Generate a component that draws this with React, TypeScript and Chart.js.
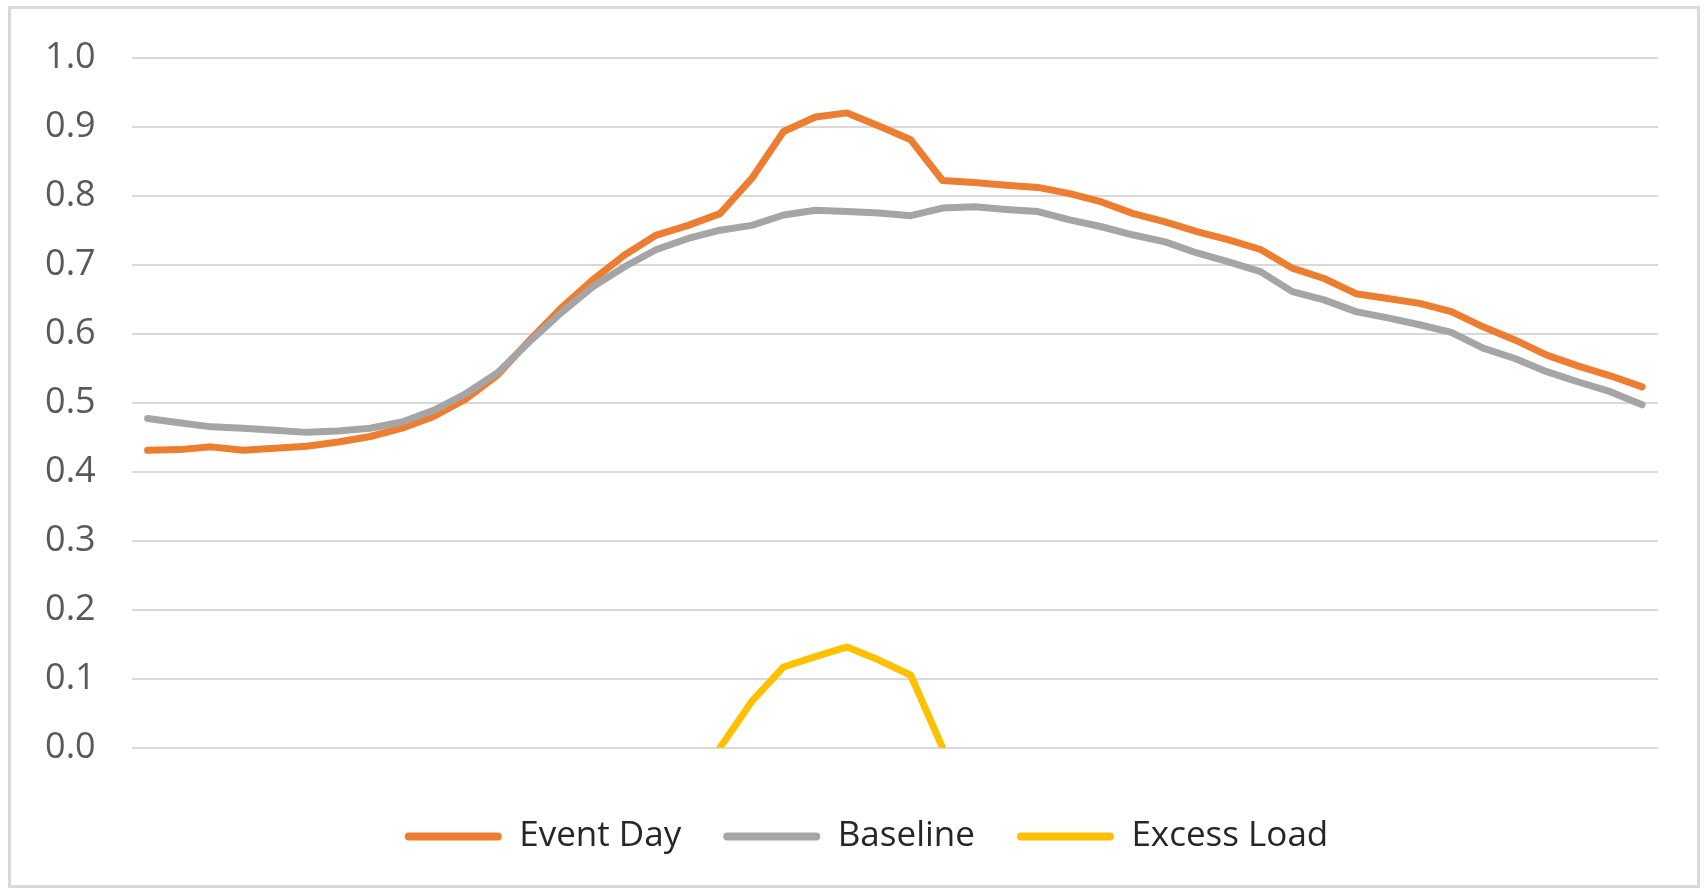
import React, { useEffect, useRef } from 'react';
import { Chart, registerables } from 'chart.js';

Chart.register(...registerables);

const timeLabels = [
  '0:30', '1:00', '1:30', '2:00', '2:30', '3:00', '3:30', '4:00', '4:30', '5:00', '5:30', '6:00',
  '6:30', '7:00', '7:30', '8:00', '8:30', '9:00', '9:30', '10:00', '10:30', '11:00', '11:30', '12:00',
  '12:30', '13:00', '13:30', '14:00', '14:30', '15:00', '15:30', '16:00', '16:30', '17:00', '17:30', '18:00',
  '18:30', '19:00', '19:30', '20:00', '20:30', '21:00', '21:30', '22:00', '22:30', '23:00', '23:30', '24:00',
];

const eventDay = [
  0.431, 0.432, 0.436, 0.431, 0.434, 0.437, 0.443, 0.451, 0.463, 0.48,
  0.505, 0.54, 0.59, 0.637, 0.678, 0.714, 0.743, 0.757, 0.774, 0.825,
  0.893, 0.914, 0.92, 0.901, 0.881, 0.822, 0.819, 0.815, 0.812, 0.803,
  0.791, 0.774, 0.762, 0.748, 0.736, 0.722, 0.695, 0.68, 0.658, 0.651,
  0.644, 0.632, 0.61, 0.591, 0.569, 0.553, 0.539, 0.523,
];

const baseline = [
  0.477, 0.471, 0.465, 0.463, 0.46, 0.457, 0.459, 0.463, 0.472, 0.489,
  0.513, 0.543, 0.588, 0.63, 0.668, 0.697, 0.722, 0.738, 0.75, 0.757,
  0.772, 0.779, 0.777, 0.775, 0.771, 0.782, 0.784, 0.78, 0.777, 0.765,
  0.755, 0.743, 0.733, 0.717, 0.704, 0.69, 0.661, 0.649, 0.632, 0.623,
  0.613, 0.602, 0.579, 0.564, 0.545, 0.53, 0.516, 0.497,
];

const excessLoad = [
  null, null, null, null, null, null, null, null, null, null,
  null, null, null, null, null, null, null, null, 0, 0.067,
  0.117, 0.132, 0.146, 0.127, 0.105, 0, null, null, null, null,
  null, null, null, null, null, null, null, null, null, null,
  null, null, null, null, null, null, null, null,
];

const yTickValues = [0, 0.1, 0.2, 0.3, 0.4, 0.5, 0.6, 0.7, 0.8, 0.9, 1.0];

const seriesNames = ['Event Day', 'Baseline', 'Excess Load'];
const seriesColors = ['#ED7D31', '#A5A5A5', '#FFC000'];

const legendShift = {
  id: 'legendShift',
  afterLayout(chart: any) {
    const lg = chart.legend;
    if (!lg) return;
    const target = 866.5;
    const shift = target - (lg.left + lg.right) / 2;
    lg.left += shift;
    lg.right += shift;
    if (lg.legendHitBoxes) {
      lg.legendHitBoxes.forEach((h: any) => {
        h.left += shift;
      });
    }
  },
};

export default function App() {
  const canvasRef = useRef<HTMLCanvasElement | null>(null);

  useEffect(() => {
    const canvas = canvasRef.current;
    if (!canvas) return;
    const seriesData = [eventDay, baseline, excessLoad];
    const chart = new Chart(canvas, {
      type: 'line',
      data: {
        labels: timeLabels,
        datasets: seriesNames.map((name, i) => ({
          label: name,
          data: seriesData[i] as any,
          borderColor: seriesColors[i],
          backgroundColor: seriesColors[i],
          borderWidth: 7,
          pointRadius: 0,
          pointHoverRadius: 0,
          tension: 0,
          borderJoinStyle: 'round' as const,
          borderCapStyle: 'round' as const,
          spanGaps: false,
          order: 3 - i,
        })),
      },
      plugins: [legendShift],
      options: {
        responsive: false,
        animation: false,
        layout: {
          padding: { left: 20, right: 49, top: 57.7, bottom: 29 },
        },
        scales: {
          x: {
            type: 'category',
            offset: true,
            grid: { display: false },
            border: { display: false },
            ticks: { display: false },
            afterFit: (scale: any) => {
              scale.height = 29.3;
            },
          },
          y: {
            min: 0,
            max: 1,
            border: { display: false },
            grid: {
              color: '#d9d9d9',
              lineWidth: 2,
              drawTicks: false,
            },
            afterBuildTicks: (scale: any) => {
              scale.ticks = yTickValues.map((v) => ({ value: v }));
            },
            ticks: {
              padding: 36,
              color: '#595959',
              font: { family: 'Open Sans', size: 36 },
              callback: (v: any) => Number(v).toFixed(1),
            },
            afterFit: (scale: any) => {
              scale.width = 111.7;
            },
          },
        },
        plugins: {
          tooltip: { enabled: false },
          legend: {
            position: 'bottom',
            labels: {
              boxWidth: 97,
              boxHeight: 8,
              padding: 42,
              color: '#262626',
              font: { family: 'Open Sans', size: 35 },
              sort: (a: any, b: any) => a.datasetIndex - b.datasetIndex,
              generateLabels: (c: any) => {
                const items = (Chart.defaults.plugins.legend.labels as any).generateLabels(c);
                return items.map((it: any) => ({
                  ...it,
                  fillStyle: seriesColors[it.datasetIndex],
                  strokeStyle: seriesColors[it.datasetIndex],
                  lineWidth: 0,
                  borderRadius: 4,
                }));
              },
            },
          },
        },
      },
    } as any);
    return () => chart.destroy();
  }, []);

  return (
    <div
      style={{
        position: 'fixed',
        left: 0,
        top: 0,
        width: 1707,
        height: 893,
        background: '#ffffff',
      }}
    >
      <div
        style={{
          position: 'absolute',
          left: 8,
          top: 6,
          width: 1692,
          height: 882,
          boxSizing: 'border-box',
          border: '3px solid #d9d9d9',
        }}
      />
      <canvas
        ref={canvasRef}
        width={1707}
        height={893}
        style={{ position: 'absolute', left: 0, top: 0, width: 1707, height: 893 }}
      />
    </div>
  );
}
